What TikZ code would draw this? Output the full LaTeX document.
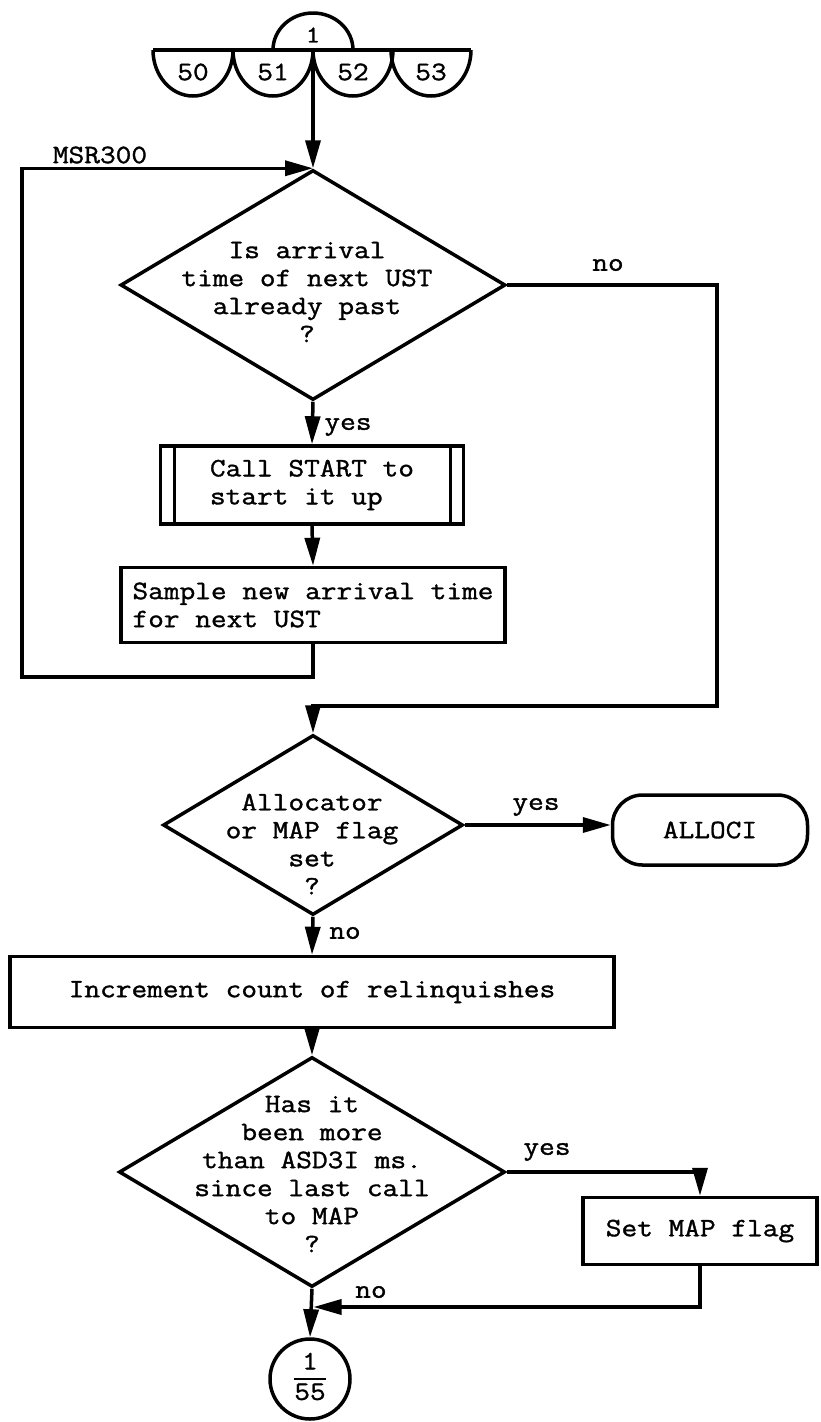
\documentclass[tikz,border=0pt]{standalone}
\usepackage{fontspec}
\newfontfamily\chartfont{Latin Modern Mono}[FakeStretch=1.15,FakeBold=1.3]
\setlength\arrayrulewidth{2.5pt}
\usetikzlibrary{shapes.geometric,arrows.meta}

\begin{document}
\begin{tikzpicture}[x=1pt,y=-1pt,line width=3.5pt,
    font={\chartfont\fontsize{26.5}{28}\selectfont},
    box/.style={draw,rectangle,inner sep=0pt},
    decision/.style={draw,diamond,inner sep=0pt},
    txt/.style={inner sep=0pt,align=center},
    flow/.style={-{Triangle[length=28pt,width=15pt]}},
    subr/.style={box,path picture={
        \draw[line width=2.5pt]
          ([xshift=14pt]path picture bounding box.north west) -- ([xshift=14pt]path picture bounding box.south west)
          ([xshift=-13pt]path picture bounding box.north east) -- ([xshift=-13pt]path picture bounding box.south east);}}]
  \useasboundingbox (0,0) rectangle (820,1422);

  % entry connectors
  \coordinate (entry) at (313,50);
  \draw (153,50) -- (471,50);
  \draw (273,50) arc[start angle=180,end angle=0,x radius=40pt,y radius=37pt];
  \node[font={\chartfont\fontsize{24}{24}\selectfont}] (c1) at (313,35) {1};
  \foreach \x/\n in {193/50,273/51,353/52,431/53} {
    \draw (\x-40,50) arc[start angle=180,end angle=360,x radius=40pt,y radius=46pt];
    \node (c\n) at (\x,72) {\n};
  }

  % boxes and decisions
  \node[decision,minimum width=385,minimum height=230] (q1) at (313,285) {};
  \node[txt] (q1t) at (307,292) {Is arrival\\time of next UST\\already past\\?};
  \node[subr,minimum width=303,minimum height=78,align=left] (start) at (312,485) {Call START to\\start it up};
  \node[box,minimum width=384,minimum height=75,align=left] (sample) at (313,605) {Sample new arrival time\\for next UST};
  \node[decision,minimum width=300,minimum height=180] (q2) at (313,825) {};
  \node[txt] (q2t) at (312,844) {Allocator\\or MAP flag\\set\\?};
  \node[draw,rounded corners=30pt,minimum width=195,minimum height=70,inner sep=0pt] (alloci) at (710,830) {ALLOCI};
  \node[box,minimum width=604,minimum height=71] (incr) at (312,992) {Increment count of relinquishes};
  \node[decision,minimum width=386,minimum height=230] (q3) at (312,1172) {};
  \node[txt] (q3t) at (312,1174) {Has it\\been more\\than ASD3I ms.\\since last call\\to MAP\\?};
  \node[box,minimum width=234,minimum height=67] (setmap) at (700,1231) {Set MAP flag};
  \node[draw,circle,minimum size=80,inner sep=0pt] (exit) at (310,1379)
    {\begin{tabular}{@{}c@{}}1\\\hline 55\end{tabular}};

  % labels
  \node (msr) at (100,155) {MSR300};
  \node (no1) at (608,265) {no};
  \node (yes1) at (348,427) {yes};
  \node (yes2) at (536,807) {yes};
  \node (no2) at (345,933) {no};
  \node (yes3) at (547,1152) {yes};
  \node (no3) at (371,1292) {no};

  % flow lines
  \coordinate (loop) at (22,677);
  \coordinate (skip) at (717,706);
  \coordinate (join) at (312,1307);
  \draw[flow] (entry) -- (q1.north);
  \draw[flow] (q1.south) -- (start.north);
  \draw[flow] (start.south) -- (sample.north);
  \draw[flow] (sample.south) |- (loop) |- (q1.north);
  \draw[flow] (q1.east) -| (skip) -| (q2.north);
  \draw[flow] (q2.east) -- (q2.east -| alloci.west);
  \draw[flow] (q2.south) -- (incr.north);
  \draw[flow] (incr.south) -- (q3.north);
  \draw[flow] (q3.east) -| (setmap.north);
  \draw[flow,shorten >=1.5pt] (setmap.south) |- (join);
  \draw[flow] (q3.south) -- (exit.north);
\end{tikzpicture}
\end{document}
